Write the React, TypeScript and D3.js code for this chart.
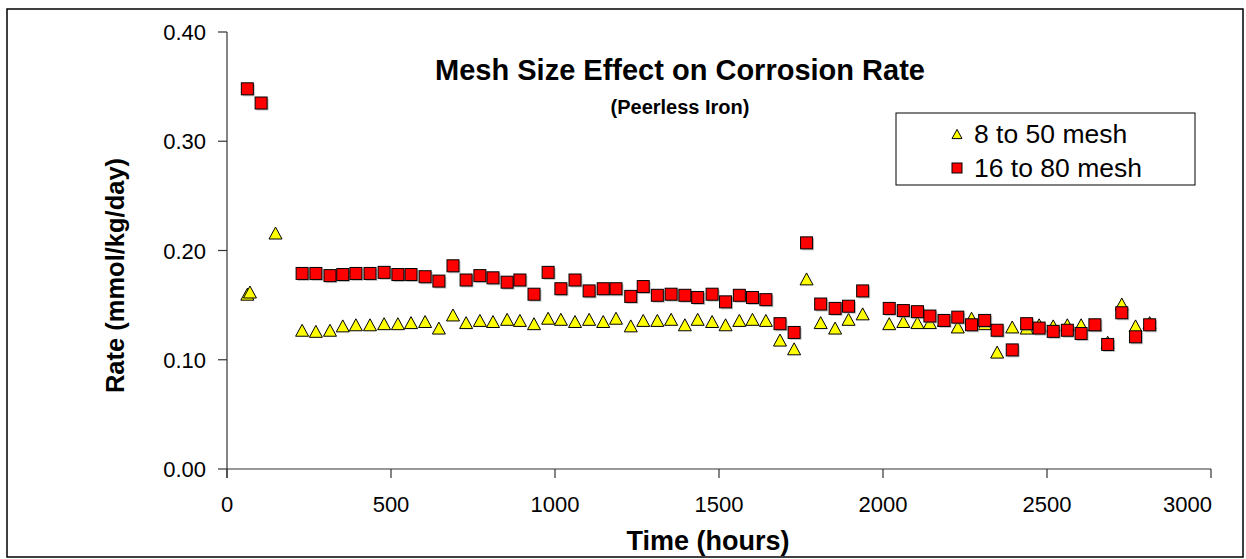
import React from "react";
import * as d3 from "d3";

// ---- data ----
const tri_t = [62, 70, 148, 229, 271, 314, 353, 393, 436, 479, 521, 561, 604, 646, 689, 729, 771, 811, 854, 893, 936, 979, 1018, 1061, 1104, 1147, 1186, 1231, 1269, 1312, 1354, 1396, 1435, 1479, 1520, 1562, 1602, 1643, 1686, 1729, 1767, 1810, 1854, 1895, 1938, 2019, 2062, 2105, 2143, 2186, 2228, 2270, 2310, 2348, 2394, 2438, 2476, 2519, 2562, 2604, 2646, 2685, 2728, 2770, 2813];
const tri_v = [0.160, 0.162, 0.216, 0.127, 0.126, 0.127, 0.131, 0.132, 0.132, 0.133, 0.133, 0.134, 0.135, 0.129, 0.141, 0.134, 0.136, 0.135, 0.137, 0.136, 0.133, 0.138, 0.137, 0.135, 0.137, 0.135, 0.138, 0.131, 0.136, 0.136, 0.137, 0.132, 0.137, 0.135, 0.132, 0.136, 0.137, 0.136, 0.118, 0.110, 0.174, 0.134, 0.129, 0.137, 0.142, 0.133, 0.135, 0.134, 0.134, 0.136, 0.130, 0.138, 0.133, 0.107, 0.130, 0.129, 0.132, 0.131, 0.132, 0.132, 0.132, 0.116, 0.151, 0.131, 0.134];
const sq_t = [62, 104, 229, 271, 314, 353, 393, 436, 479, 521, 561, 604, 646, 689, 729, 771, 811, 854, 893, 936, 979, 1018, 1061, 1104, 1147, 1186, 1231, 1269, 1312, 1354, 1396, 1435, 1479, 1520, 1562, 1602, 1643, 1686, 1729, 1767, 1810, 1854, 1895, 1938, 2019, 2062, 2105, 2143, 2186, 2228, 2270, 2310, 2348, 2394, 2438, 2476, 2519, 2562, 2604, 2646, 2685, 2728, 2770, 2813];
const sq_v = [0.348, 0.335, 0.179, 0.179, 0.177, 0.178, 0.179, 0.179, 0.180, 0.178, 0.178, 0.176, 0.172, 0.186, 0.173, 0.177, 0.175, 0.171, 0.173, 0.160, 0.180, 0.165, 0.173, 0.163, 0.165, 0.165, 0.158, 0.167, 0.159, 0.160, 0.159, 0.157, 0.160, 0.153, 0.159, 0.157, 0.155, 0.133, 0.125, 0.207, 0.151, 0.147, 0.149, 0.163, 0.147, 0.145, 0.144, 0.140, 0.136, 0.139, 0.132, 0.136, 0.127, 0.109, 0.133, 0.129, 0.126, 0.127, 0.124, 0.132, 0.114, 0.143, 0.121, 0.132];
const xTicks = [0, 500, 1000, 1500, 2000, 2500, 3000];
const yTicks = [0, 0.1, 0.2, 0.3, 0.4];
const seriesNames = ["8 to 50 mesh", "16 to 80 mesh"];
const title = "Mesh Size Effect on Corrosion Rate";
const subtitle = "(Peerless Iron)";
const xTitle = "Time (hours)";
const yTitle = "Rate (mmol/kg/day)";

const W = 1246, H = 559;
const x = d3.scaleLinear().domain([0, 3000]).range([227, 1211]);
const y = d3.scaleLinear().domain([0, 0.4]).range([469, 32]);
const FONT = "Liberation Sans, Arial, sans-serif";

const triPath = (cx: number, cy: number, s: number) => {
  const h = s * 0.92;
  return `M${cx},${cy - h / 2}L${cx + s / 2},${cy + h / 2}L${cx - s / 2},${cy + h / 2}Z`;
};

export default function App() {
  const sq = 12;
  const ts = 13;
  return (
    <div style={{ position: "absolute", left: 0, top: 0 }}>
      <svg width={W} height={H} style={{ display: "block", fontFamily: FONT }}>
        <rect x={0} y={0} width={W} height={H} fill="#fff" />
        <rect x={7} y={9} width={1236} height={548} fill="none" stroke="#000" strokeWidth={1.5} />
        {/* axes */}
        <line x1={x(0)} x2={x(3000)} y1={y(0)} y2={y(0)} stroke="#333" strokeWidth={1.2} />
        <line x1={x(0)} x2={x(0)} y1={y(0.4)} y2={y(0) + 9} stroke="#333" strokeWidth={1.2} />
        {xTicks.map((t, i) => (
          <g key={"xt" + t}>
            <line x1={x(t)} x2={x(t)} y1={y(0)} y2={y(0) + 9} stroke="#333" strokeWidth={1.2} />
            <text x={i === xTicks.length - 1 ? x(t) + 1 : x(t)} y={y(0) + 43} textAnchor={i === xTicks.length - 1 ? "end" : "middle"} fontSize={22} fill="#000">{t}</text>
          </g>
        ))}
        {yTicks.map((v) => (
          <g key={"yt" + v}>
            <line x1={x(0) - 9} x2={x(0)} y1={y(v)} y2={y(v)} stroke="#333" strokeWidth={1.2} />
            <text x={206} y={y(v) + 8} textAnchor="end" fontSize={22} fill="#000">{v.toFixed(2)}</text>
          </g>
        ))}
        <text x={708} y={550} textAnchor="middle" fontSize={27} fontWeight="bold">{xTitle}</text>
        <text transform={`translate(124,${(y(0) + y(0.4)) / 2 + 25}) rotate(-90)`} textAnchor="middle" fontSize={25.5} fontWeight="bold">{yTitle}</text>
        <text x={680} y={80} textAnchor="middle" fontSize={29} fontWeight="bold">{title}</text>
        <text x={680} y={114} textAnchor="middle" fontSize={20} fontWeight="bold">{subtitle}</text>
        {/* triangles */}
        {tri_t.map((t, i) => (
          <path key={"tr" + i} d={triPath(x(t), y(tri_v[i]), ts)} fill="#ffff00" stroke="#000" strokeWidth={1} />
        ))}
        {/* squares */}
        {sq_t.map((t, i) => (
          <g key={"sq" + i}>
            <rect x={x(t) - sq / 2 + 1.5} y={y(sq_v[i]) - sq / 2 + 1.5} width={sq} height={sq} fill="#999" opacity={0.6} />
            <rect x={x(t) - sq / 2} y={y(sq_v[i]) - sq / 2} width={sq} height={sq} fill="#ff0000" stroke="#000" strokeWidth={1} />
          </g>
        ))}
        {/* legend */}
        <rect x={896} y={113} width={299} height={72} fill="#fff" stroke="#000" strokeWidth={1} />
        <path d={triPath(957, 134, 10)} fill="#ffff00" stroke="#000" strokeWidth={1} />
        <text x={974} y={143} fontSize={26.5}>{seriesNames[0]}</text>
        <rect x={952} y={163} width={10} height={10} fill="#ff0000" stroke="#000" strokeWidth={1} />
        <text x={974} y={177} fontSize={26.5}>{seriesNames[1]}</text>
      </svg>
    </div>
  );
}
